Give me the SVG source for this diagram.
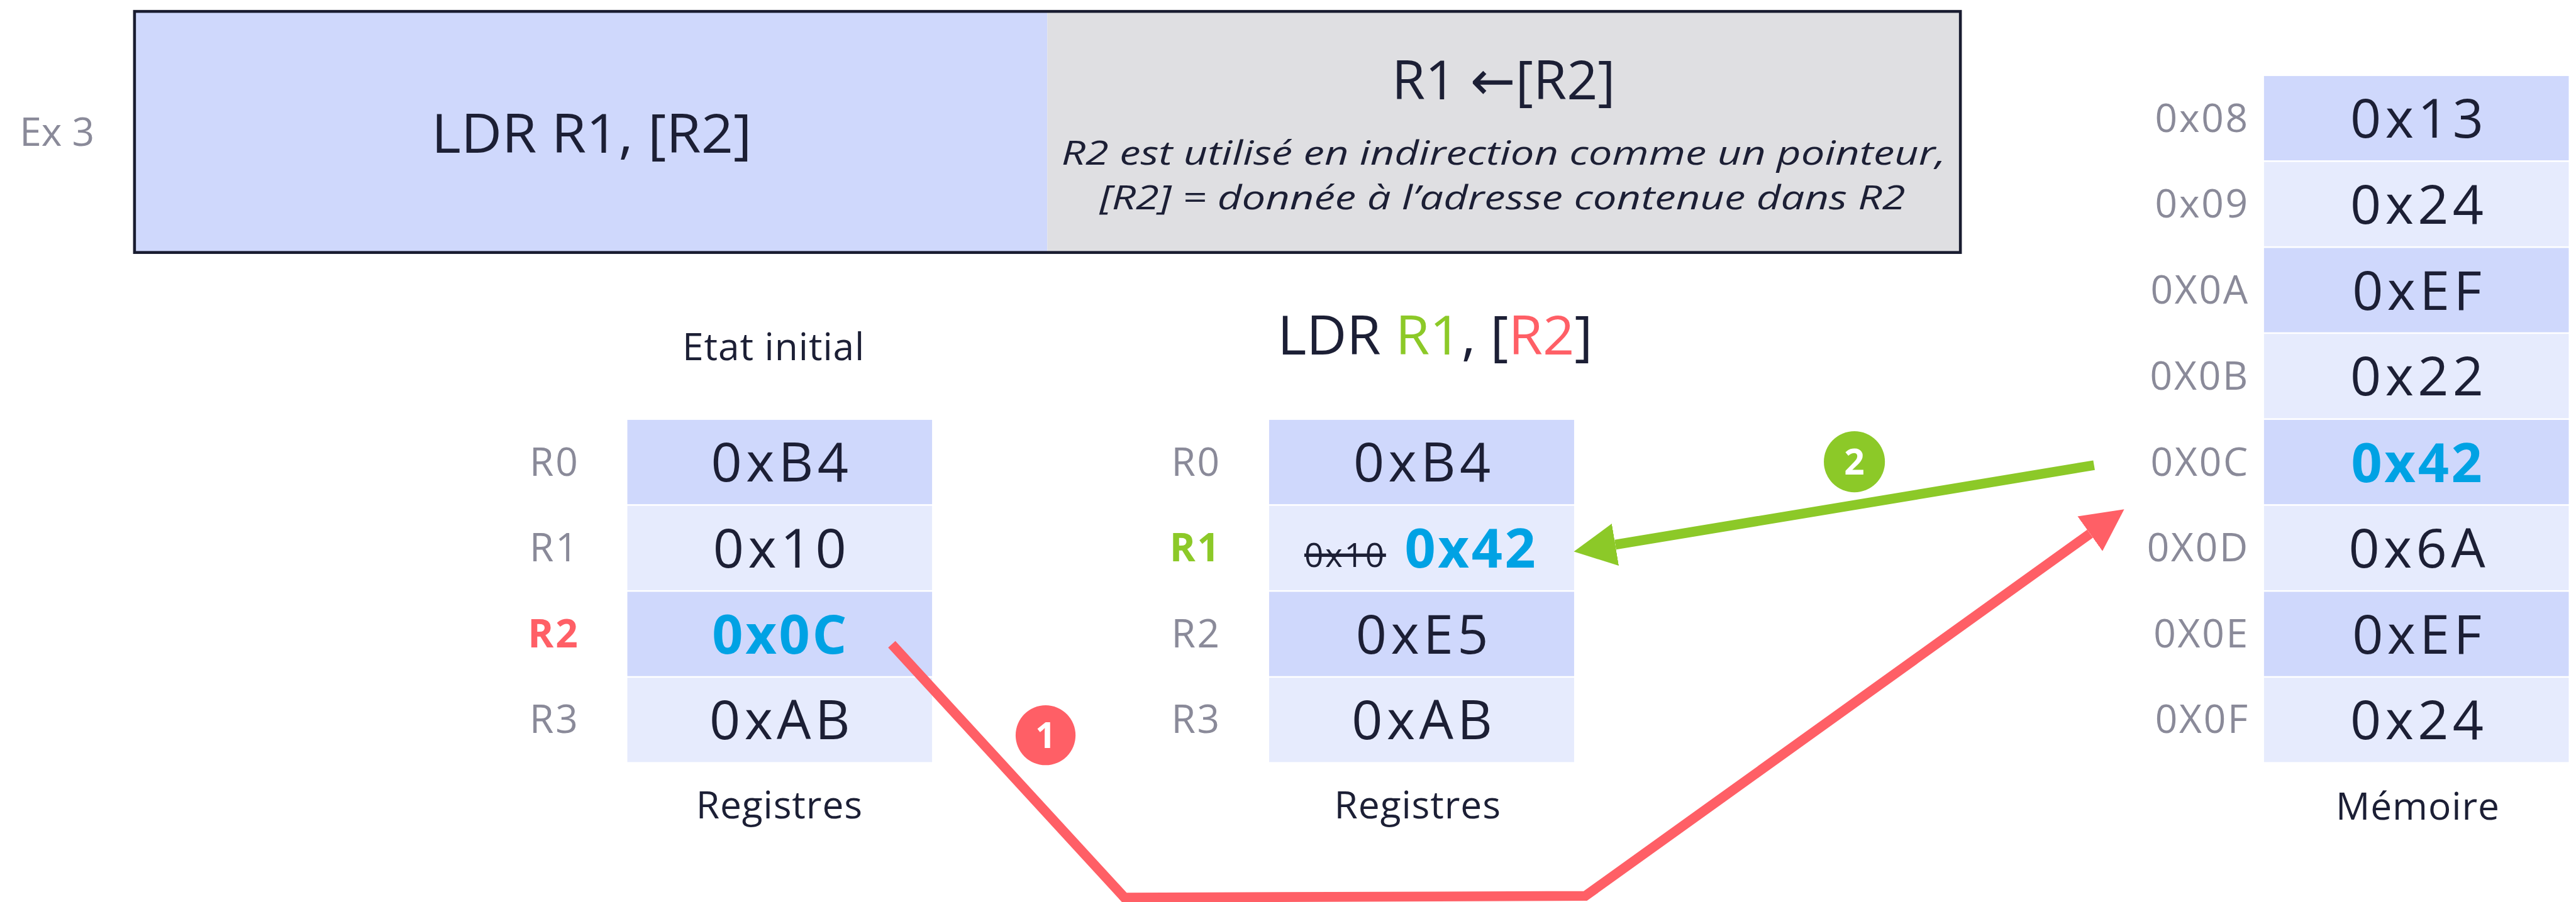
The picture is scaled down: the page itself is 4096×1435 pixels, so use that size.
<svg xmlns="http://www.w3.org/2000/svg" width="4096" height="1435" viewBox="0 0 4096 1435">
  <style>
    text { font-family: "Open Sans", "Liberation Sans", sans-serif; fill: #1c1f35; }
    .title { font-size: 94px; text-anchor: middle; }
    .note { font-size: 58px; font-style: italic; text-anchor: middle; }
    .caption { font-size: 66px; text-anchor: middle; letter-spacing: 1px; }
    .addr { font-size: 68px; fill: #8a8a99; text-anchor: end; letter-spacing: 3px; }
    .val { font-size: 94px; text-anchor: middle; letter-spacing: 7px; }
    .hot { font-weight: 700; fill: #00a2e4; letter-spacing: 4px; }
    .dark { fill: #cfd8fc; }
    .light { fill: #e6ebfd; }
    .red { fill: #ff5f66; }
    .green { fill: #8cc928; }
    .badge { font-size: 62px; font-weight: 700; fill: #ffffff; text-anchor: middle; }
    .wire { fill: none; stroke-width: 17; stroke-linejoin: miter; stroke-linecap: butt; }
  </style>
  <defs>
    <marker id="headRed" markerUnits="userSpaceOnUse" markerWidth="80" markerHeight="80" viewBox="0 -40 80 80" refX="0" refY="0" orient="auto">
      <path d="M0,-37 L73,0 L0,37 Z" fill="#ff5f66"/>
    </marker>
    <marker id="headGreen" markerUnits="userSpaceOnUse" markerWidth="80" markerHeight="80" viewBox="0 -40 80 80" refX="0" refY="0" orient="auto">
      <path d="M0,-37 L73,0 L0,37 Z" fill="#8cc928"/>
    </marker>
  </defs>
  <rect width="4096" height="1435" fill="#ffffff"/>
  <g transform="scale(0.916)">
    <!-- instruction banner -->
    <g id="banner">
      <text x="34" y="253" font-size="68" style="fill:#8a8a99" textLength="130" lengthAdjust="spacingAndGlyphs">Ex 3</text>
      <rect x="233.5" y="19.8" width="1584.5" height="418.7" fill="#cfd8fc"/>
      <rect x="1818" y="19.8" width="1585" height="418.7" fill="#dfdfe2"/>
      <rect x="233.5" y="19.8" width="3169.5" height="418.7" fill="none" stroke="#191c30" stroke-width="5"/>
      <text class="title" x="1027" y="265" textLength="556" lengthAdjust="spacingAndGlyphs">LDR R1, [R2]</text>
      <text class="title" x="2610" y="173">R1 <tspan style="font-family:'DejaVu Sans',sans-serif">←</tspan>[R2]</text>
      <text class="note" x="2610" y="286" textLength="1535" lengthAdjust="spacingAndGlyphs">R2 est utilisé en indirection comme un pointeur,</text>
      <text class="note" x="2608" y="363" textLength="1399" lengthAdjust="spacingAndGlyphs">[R2] = donnée à l’adresse contenue dans R2</text>
    </g>

    <!-- registers before execution -->
    <g id="regs-initial">
      <text class="caption" x="1343" y="625">Etat initial</text>
      <rect class="dark" x="1089" y="729.2" width="529" height="146.5"/>
      <rect class="light" x="1089" y="878.5" width="529" height="146.5"/>
      <rect class="dark" x="1089" y="1027.8" width="529" height="146.5"/>
      <rect class="light" x="1089" y="1177.1" width="529" height="146.5"/>
      <text class="addr" x="1006" y="826">R0</text>
      <text class="addr" x="1006" y="975">R1</text>
      <text class="addr" x="1006" y="1124" style="fill:#ff5f66;font-weight:700">R2</text>
      <text class="addr" x="1006" y="1273">R3</text>
      <text class="val" x="1357" y="836">0xB4</text>
      <text class="val" x="1357" y="986">0x10</text>
      <text class="val hot" x="1355" y="1135">0x0C</text>
      <text class="val" x="1357" y="1284">0xAB</text>
      <text class="caption" x="1353" y="1421">Registres</text>
    </g>

    <!-- registers after LDR -->
    <g id="regs-after">
      <text class="title" x="2491" y="616" textLength="547" lengthAdjust="spacingAndGlyphs"><tspan>LDR </tspan><tspan style="fill:#8cc928">R1</tspan><tspan>, [</tspan><tspan style="fill:#ff5f66">R2</tspan><tspan>]</tspan></text>
      <rect class="dark" x="2203" y="729.2" width="529.5" height="146.5"/>
      <rect class="light" x="2203" y="878.5" width="529.5" height="146.5"/>
      <rect class="dark" x="2203" y="1027.8" width="529.5" height="146.5"/>
      <rect class="light" x="2203" y="1177.1" width="529.5" height="146.5"/>
      <text class="addr" x="2120" y="826">R0</text>
      <text class="addr" x="2120" y="975" style="fill:#8cc928;font-weight:700">R1</text>
      <text class="addr" x="2120" y="1124">R2</text>
      <text class="addr" x="2120" y="1273">R3</text>
      <text class="val" x="2472" y="836">0xB4</text>
      <text x="2335" y="985" font-size="58" text-anchor="middle" style="text-decoration:line-through;letter-spacing:3px">0x10</text>
      <text class="val hot" x="2554" y="986">0x42</text>
      <text class="val" x="2472" y="1135">0xE5</text>
      <text class="val" x="2472" y="1284">0xAB</text>
      <text class="caption" x="2461" y="1421">Registres</text>
    </g>

    <!-- memory -->
    <g id="memory">
      <rect class="dark" x="3930" y="132" width="529" height="146.5"/>
      <rect class="light" x="3930" y="281.3" width="529" height="146.5"/>
      <rect class="dark" x="3930" y="430.6" width="529" height="146.5"/>
      <rect class="light" x="3930" y="579.9" width="529" height="146.5"/>
      <rect class="dark" x="3930" y="729.2" width="529" height="146.5"/>
      <rect class="light" x="3930" y="878.5" width="529" height="146.5"/>
      <rect class="dark" x="3930" y="1027.8" width="529" height="146.5"/>
      <rect class="light" x="3930" y="1177.1" width="529" height="146.5"/>
      <text class="addr" x="3905" y="229">0x08</text>
      <text class="addr" x="3905" y="378">0x09</text>
      <text class="addr" x="3905" y="527">0X0A</text>
      <text class="addr" x="3905" y="677">0X0B</text>
      <text class="addr" x="3905" y="826">0X0C</text>
      <text class="addr" x="3905" y="975">0X0D</text>
      <text class="addr" x="3905" y="1124">0X0E</text>
      <text class="addr" x="3905" y="1273">0X0F</text>
      <text class="val" x="4199" y="239">0x13</text>
      <text class="val" x="4199" y="389">0x24</text>
      <text class="val" x="4199" y="538">0xEF</text>
      <text class="val" x="4199" y="687">0x22</text>
      <text class="val hot" x="4197" y="837">0x42</text>
      <text class="val" x="4199" y="986">0x6A</text>
      <text class="val" x="4199" y="1135">0xEF</text>
      <text class="val" x="4199" y="1284">0x24</text>
      <text class="caption" x="4197" y="1424">Mémoire</text>
    </g>

    <!-- step arrows -->
    <g id="connectors">
      <path class="wire" d="M1548,1119 L1952,1559 L2752,1556 L3628,927" stroke="#ff5f66" marker-end="url(#headRed)"/>
      <path class="wire" d="M3635,808 L2804,946" stroke="#8cc928" marker-end="url(#headGreen)"/>
    </g>

    <g id="step-1">
      <circle class="red" cx="1815" cy="1277" r="52"/>
      <text class="badge" x="1815" y="1299">1</text>
    </g>
    <g id="step-2">
      <circle class="green" cx="3219" cy="802" r="53"/>
      <text class="badge" x="3219" y="824">2</text>
    </g>
  </g>
</svg>
